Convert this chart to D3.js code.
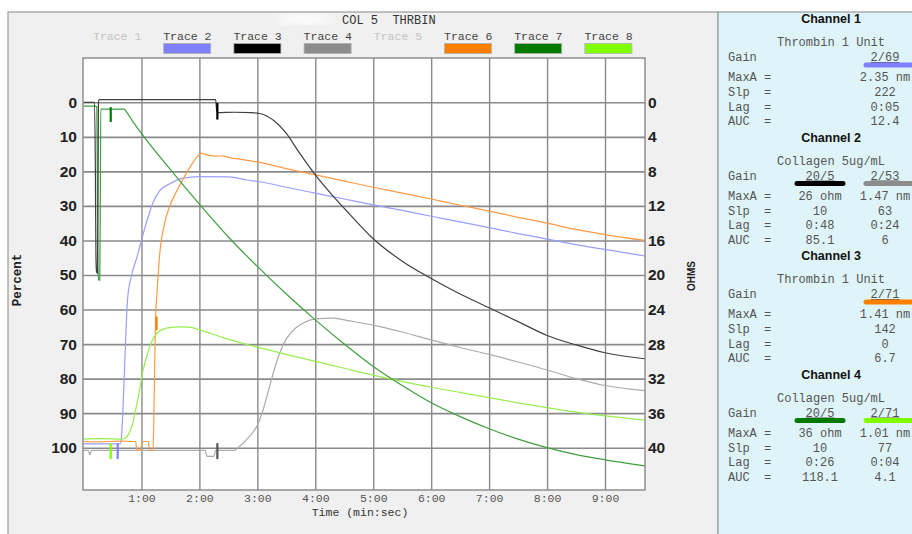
<!DOCTYPE html>
<html><head><meta charset="utf-8">
<script src="https://cdn.jsdelivr.net/npm/d3@7"></script>
<style>body{margin:0;background:#fff;} svg{display:block}</style>
</head><body><svg id="c" width="912" height="534"></svg>
<script>
// ---------- DATA ----------
const chartTitle = "COL 5  THRBIN";
const legendNames = ["Trace 1","Trace 2","Trace 3","Trace 4","Trace 5","Trace 6","Trace 7","Trace 8"];
const legendActive = [false,true,true,true,false,true,true,true];
const timeTicks = [1,2,3,4,5,6,7,8,9];
const timeTickLabels = ["1:00","2:00","3:00","4:00","5:00","6:00","7:00","8:00","9:00"];
const pctTicks = [0,10,20,30,40,50,60,70,80,90,100];
const ohmTicks = [0,4,8,12,16,20,24,28,32,36,40];

// Trace 2 (percent)
const trace2 = [[0,98.8],[0.3,98.9],[0.64,98.8],[0.66,96],[0.69,85],[0.72,72],[0.76,57],[0.83,50],[0.92,45],[1.0,40],[1.1,34],[1.2,29],[1.32,25.5],[1.5,23.5],[1.7,22],[2.0,21.5],[2.5,21.6],[2.82,22.5],[3.04,23],[3.5,24.6],[4,26.3],[4.5,28],[5,29.7],[5.5,31.3],[6,33],[6.5,34.6],[7,36.3],[7.5,38],[8,39.6],[8.5,41.2],[9,42.6],[9.69,44.5]];
// Trace 3 (ohms)
const trace3 = [[0,0],[0.19,0],[0.205,8],[0.215,18],[0.225,19.6],[0.24,19.8],[0.25,12],[0.258,0],[0.27,-0.3],[1,-0.3],[2,-0.3],[2.28,-0.3],[2.3,1.0],[2.32,1.2],[2.6,1.15],[2.9,1.2],[3.04,1.3],[3.3,2.2],[3.5,3.6],[3.7,5.6],[4,8.4],[4.3,10.8],[4.6,13.0],[5,15.8],[5.5,18.4],[6,20.4],[6.5,22.2],[7,23.8],[7.5,25.4],[8,27],[8.5,28.1],[9,29],[9.69,29.7]];
// Trace 4 (percent)
const trace4 = [[0,100.8],[0.08,100.8],[0.11,102],[0.14,100.8],[1,100.8],[2.1,100.8],[2.13,102.5],[2.25,102.5],[2.28,100.8],[2.6,100.8],[2.7,99.5],[2.85,97],[3.0,93.5],[3.1,89],[3.2,83],[3.3,77],[3.4,72],[3.5,68.5],[3.65,65.5],[3.8,63.8],[4.0,62.7],[4.3,62.5],[4.6,63.3],[5.0,64.5],[5.5,66.5],[6.0,68.8],[6.5,71],[7.0,73],[7.5,75.2],[8.0,77.5],[8.5,80],[9.0,82],[9.69,83.5]];
// Trace 6 (percent)
const trace6 = [[0,98.2],[0.3,98.3],[0.6,98.1],[0.9,98.2],[0.92,100.8],[0.99,100.8],[1.01,98.2],[1.12,98.2],[1.14,100.8],[1.2,100.8],[1.215,90],[1.23,75],[1.245,62],[1.27,55],[1.31,45],[1.4,35],[1.49,30],[1.6,26],[1.71,22.5],[1.83,19],[1.95,16],[2.03,14.8],[2.15,15.3],[2.26,15.6],[2.4,15.5],[2.52,16],[2.75,16.6],[3.04,17.4],[3.5,19.2],[4,21],[4.5,22.8],[5,24.6],[5.5,26.3],[6,28],[6.5,29.8],[7,31.5],[7.5,33.3],[8,35],[8.5,36.8],[9,38.3],[9.69,40]];
// Trace 7 (ohms)
const trace7 = [[0,0.44],[0.2,0.44],[0.23,0.52],[0.24,10],[0.25,19.2],[0.262,20.6],[0.28,20.6],[0.29,12],[0.298,0.8],[0.31,0.8],[0.7,0.8],[0.75,1.2],[0.85,2.2],[1.0,3.6],[1.5,7.8],[2.0,11.8],[2.5,15.6],[3.0,19],[3.5,22.2],[4.0,25.2],[4.5,28],[5,30.6],[5.5,32.8],[6,34.8],[6.5,36.4],[7,37.8],[7.5,39],[8,40],[8.5,40.8],[9,41.4],[9.69,42.1]];
// Trace 8 (percent)
const trace8 = [[0,97.5],[0.3,97.4],[0.66,97.5],[0.72,97.2],[0.78,96],[0.84,93.5],[0.9,89],[0.95,85],[0.98,82],[1.03,77.5],[1.09,73.6],[1.17,69.6],[1.27,66.8],[1.43,65.4],[1.66,65],[1.83,65.1],[2.0,65.9],[2.35,67.8],[2.64,69.3],[2.98,70.8],[3.5,73],[4,75],[4.5,77],[5,79],[5.5,80.8],[6,82.5],[6.5,84],[7,85.5],[7.5,87],[8,88.4],[8.5,89.7],[9,90.8],[9.69,92]];

// Lag markers: [trace index, time, from, to] (percent units)
const markers = [[8,0.47,98.7,103.3],[2,0.59,98.7,103.3],[6,1.26,62,66],[3,2.31,0.2,5],[4,2.31,98.7,103.3],[7,0.47,1.4,5.7]];

// Right panel
const channelHeaders = ["Channel 1","Channel 2","Channel 3","Channel 4"];
const channelAgents = ["Thrombin 1 Unit","Collagen 5ug/mL","Thrombin 1 Unit","Collagen 5ug/mL"];
const rowLabels = ["Gain","MaxA =","Slp  =","Lag  =","AUC  ="];
const leftValues = [null,["20/5","26 ohm","10","0:48","85.1"],null,["20/5","36 ohm","10","0:26","118.1"]];
const rightValues = [["2/69","2.35 nm","222","0:05","12.4"],["2/53","1.47 nm","63","0:24","6"],["2/71","1.41 nm","142","0","6.7"],["2/71","1.01 nm","77","0:04","4.1"]];
const leftTrace = [null,3,null,7];
const rightTrace = [2,4,6,8];

// ---------- STYLE / LAYOUT ----------
const legendFill = {2:"#7f7fff",3:"#000000",4:"#8c8c8c",6:"#ff7f00",7:"#007a00",8:"#80ff00"};
const lineColor = {2:"#9d9dff",3:"#404040",4:"#ababab",6:"#ff9a45",7:"#3f9f3f",8:"#98ee50"};
const mono = "'Liberation Mono','Courier New',monospace";
const sans = "'Liberation Sans',Arial,sans-serif";
const P = {l:83, r:645, t:58, b:490};

const svg = d3.select("#c");
svg.append("rect").attr("x",0).attr("y",0).attr("width",912).attr("height",534).attr("fill","#fff");
svg.append("rect").attr("x",8).attr("y",12).attr("width",710).attr("height",530).attr("fill","#f0f0f0").attr("stroke","#9a9a9a").attr("stroke-width",1.2);
svg.append("rect").attr("x",718).attr("y",12).attr("width",200).attr("height",530).attr("fill","#def4f9").attr("stroke","#9a9a9a").attr("stroke-width",1.2);

const defs = svg.append("defs");
defs.append("filter").attr("id","bl").append("feGaussianBlur").attr("stdDeviation",5);
svg.append("ellipse").attr("cx",305).attr("cy",19).attr("rx",28).attr("ry",5).attr("fill","#fff").attr("filter","url(#bl)");

svg.append("text").attr("x",342).attr("y",24).attr("font-family",mono).attr("font-size",12).attr("fill","#333").style("white-space","pre").text(chartTitle);

legendNames.forEach((n,i)=>{
  const x0 = 93 + i*70.2;
  svg.append("text").attr("x",x0).attr("y",40).attr("font-family",mono).attr("font-size",11.5)
    .attr("fill", legendActive[i] ? "#444" : "#c4c4c4").text(n);
  if (legendActive[i]) {
    svg.append("rect").attr("x",x0+0.5).attr("y",43.5).attr("width",47).attr("height",10)
      .attr("fill",legendFill[i+1]).attr("stroke","#b0b0b0").attr("stroke-width",0.8);
  }
});

const x = d3.scaleLinear().domain([0,9.69]).range([83.5,P.r]);
const yP = d3.scaleLinear().domain([0,100]).range([102.3,447.7]);
const yO = d3.scaleLinear().domain([0,40]).range([102.3,447.7]);

svg.append("rect").attr("x",P.l).attr("y",P.t).attr("width",P.r-P.l).attr("height",P.b-P.t).attr("fill","#fff");

const gy = svg.append("g").attr("transform",`translate(${P.l},0)`)
  .call(d3.axisLeft(yP).tickValues(pctTicks).tickSize(-(P.r-P.l)).tickFormat(""));
gy.select(".domain").remove();
gy.selectAll("line").attr("stroke","#8a8a8a").attr("stroke-width",1.6);
const gx = svg.append("g").attr("transform",`translate(0,${P.b})`)
  .call(d3.axisBottom(x).tickValues(timeTicks).tickSize(-(P.b-P.t)).tickFormat(""));
gx.select(".domain").remove();
gx.selectAll("line").attr("stroke","#8a8a8a").attr("stroke-width",1.4);

defs.append("clipPath").attr("id","clp").append("rect").attr("x",P.l).attr("y",P.t).attr("width",P.r-P.l).attr("height",P.b-P.t);
const plot = svg.append("g").attr("clip-path","url(#clp)");

const lineP = d3.line().x(d=>x(d[0])).y(d=>yP(d[1])).curve(d3.curveMonotoneX);
const lineO = d3.line().x(d=>x(d[0])).y(d=>yO(d[1])).curve(d3.curveMonotoneX);
const series = [[4,trace4,lineP],[2,trace2,lineP],[6,trace6,lineP],[8,trace8,lineP],[7,trace7,lineO],[3,trace3,lineO]];
series.forEach(([k,data,gen])=>{
  plot.append("path").datum(data).attr("d",gen).attr("fill","none")
    .attr("stroke",lineColor[k]).attr("stroke-width",1.2).attr("stroke-linejoin","round");
});
markers.forEach(([k,t,a,b])=>{
  plot.append("line").attr("x1",x(t)).attr("x2",x(t)).attr("y1",yP(a)).attr("y2",yP(b))
    .attr("stroke", k===4 ? "#555" : legendFill[k]).attr("stroke-width",2.2);
});

svg.append("rect").attr("x",P.l).attr("y",P.t).attr("width",P.r-P.l).attr("height",P.b-P.t)
  .attr("fill","none").attr("stroke","#888").attr("stroke-width",1.4);

const al = svg.append("g").attr("transform",`translate(${P.l},0)`).call(d3.axisLeft(yP).tickValues(pctTicks).tickSize(0).tickPadding(6));
al.select(".domain").remove();
al.selectAll("text").attr("font-family",sans).attr("font-weight","bold").attr("font-size",15.5).attr("fill","#222");
const ar = svg.append("g").attr("transform",`translate(${P.r},0)`).call(d3.axisRight(yO).tickValues(ohmTicks).tickSize(0).tickPadding(3));
ar.select(".domain").remove();
ar.selectAll("text").attr("font-family",sans).attr("font-weight","bold").attr("font-size",15.5).attr("fill","#222");
const ab = svg.append("g").attr("transform",`translate(0,${P.b})`).call(d3.axisBottom(x).tickValues(timeTicks).tickFormat((d,i)=>timeTickLabels[i]).tickSize(0).tickPadding(4));
ab.select(".domain").remove();
ab.selectAll("text").attr("font-family",mono).attr("font-size",11.5).attr("fill","#555");

svg.append("text").attr("x",360).attr("y",516).attr("text-anchor","middle").attr("font-family",mono).attr("font-size",11.5).attr("fill","#333").text("Time (min:sec)");
svg.append("text").attr("transform","translate(21,280) rotate(-90)").attr("text-anchor","middle").attr("font-family",mono).attr("font-weight","bold").attr("font-size",12.5).attr("fill","#222").text("Percent");
svg.append("text").attr("transform","translate(695,276) rotate(-90)").attr("text-anchor","middle").attr("font-family",sans).attr("font-weight","bold").attr("font-size",10).attr("fill","#222").text("OHMS");

const blockY = [0,118.5,237,355.5];
channelHeaders.forEach((h,c)=>{
  const y0 = blockY[c];
  svg.append("text").attr("x",831).attr("y",y0+23).attr("text-anchor","middle").attr("font-family",sans).attr("font-weight","bold").attr("font-size",12.5).attr("fill","#111").text(h);
  svg.append("text").attr("x",831).attr("y",y0+46).attr("text-anchor","middle").attr("font-family",mono).attr("font-size",12).attr("fill","#555").text(channelAgents[c]);
  const rowsY = [61,81,96,110.5,125];
  rowLabels.forEach((r,i)=>{
    svg.append("text").attr("x",728).attr("y",y0+rowsY[i]).attr("font-family",mono).attr("font-size",12).attr("fill","#555").style("white-space","pre").text(r);
  });
  const putCol = (vals,cx)=>{
    vals.forEach((v,i)=>{
      const t = svg.append("text").attr("x",cx).attr("y",y0+rowsY[i]).attr("text-anchor","middle").attr("font-family",mono).attr("font-size",12).attr("fill","#555").text(v);
      if (i===0) t.attr("text-decoration","underline");
    });
  };
  if (leftValues[c]) putCol(leftValues[c],820);
  putCol(rightValues[c],885);
  if (leftTrace[c]!==null) svg.append("line").attr("x1",797).attr("x2",843).attr("y1",y0+65).attr("y2",y0+65).attr("stroke",legendFill[leftTrace[c]]).attr("stroke-width",5).attr("stroke-linecap","round");
  svg.append("line").attr("x1",866).attr("x2",920).attr("y1",y0+65).attr("y2",y0+65).attr("stroke",legendFill[rightTrace[c]]).attr("stroke-width",5).attr("stroke-linecap","round");
});
</script></body></html>
